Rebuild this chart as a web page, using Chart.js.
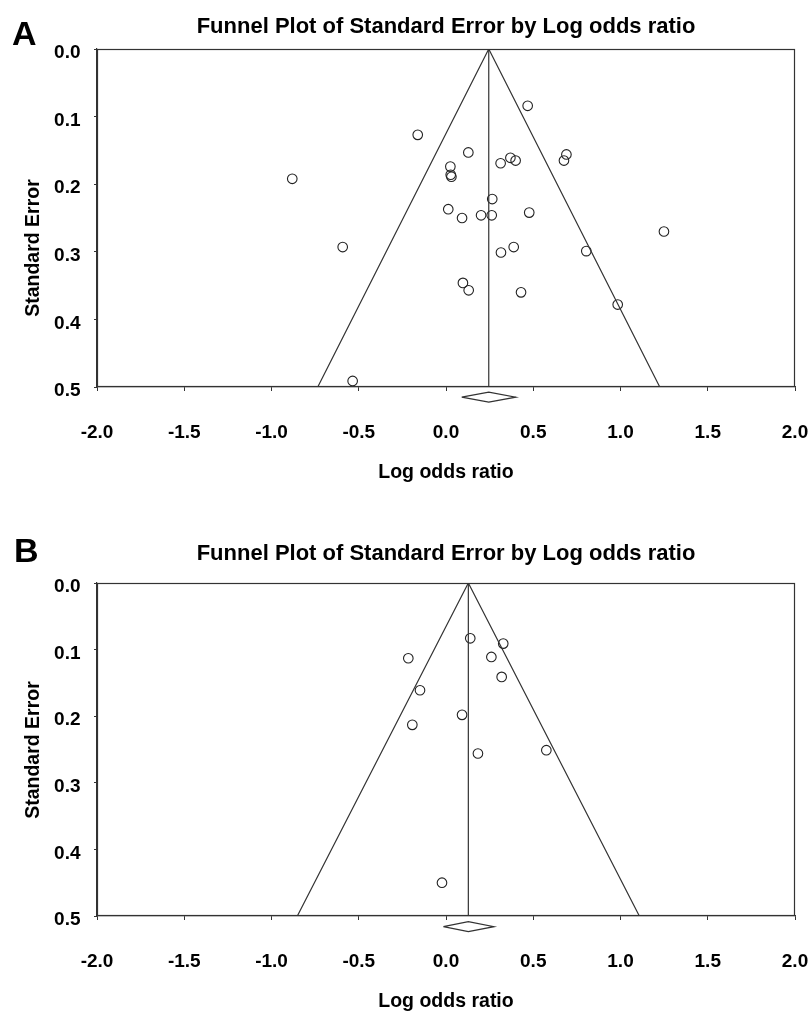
<!DOCTYPE html>
<html><head><meta charset="utf-8">
<script src="https://cdn.jsdelivr.net/npm/chart.js@4.4.1/dist/chart.umd.min.js"></script>
<style>
html,body{margin:0;padding:0;background:#fff;overflow:hidden;width:810px;height:1012px;}
.wrap{position:absolute;left:0;width:810px;height:506px;}
.lab{position:absolute;font-family:'Liberation Sans',Arial,sans-serif;font-weight:bold;font-size:34px;line-height:34px;color:#000;}
.ytitle{position:absolute;font-family:'Liberation Sans',Arial,sans-serif;font-weight:bold;font-size:19.5px;line-height:1;color:#000;white-space:nowrap;transform:translate(-50%,-50%) rotate(-90deg);}
</style></head><body>
<div class="wrap" style="top:0"><canvas id="cA" width="810" height="506"></canvas></div>
<div class="wrap" style="top:506px"><canvas id="cB" width="810" height="506"></canvas></div>
<div class="lab" style="left:12px;top:16px">A</div>
<div class="lab" style="left:14px;top:533px">B</div>
<div class="ytitle" id="ytA" style="left:33px;top:248px"></div>
<div class="ytitle" id="ytB" style="left:33px;top:750px"></div>
<script>
// ---- data ----
const xTickValues = [-2.0,-1.5,-1.0,-0.5,0.0,0.5,1.0,1.5,2.0];
const yTickValues = [0.0,0.1,0.2,0.3,0.4,0.5];
const chartTitle = 'Funnel Plot of Standard Error by Log odds ratio';
const xTitle = 'Log odds ratio';
const yTitle = 'Standard Error';

// Panel A: study log odds ratios and standard errors
const lorA = [0.468,-0.162,0.128,0.025,0.027,0.031,0.313,0.369,0.399,0.690,0.676,-0.881,0.265,0.013,0.092,0.201,0.262,0.477,1.249,-0.592,0.315,0.388,0.804,0.097,0.130,0.430,0.984,-0.535];
const seA  = [0.084,0.127,0.153,0.174,0.186,0.189,0.169,0.161,0.165,0.156,0.165,0.192,0.222,0.237,0.250,0.246,0.246,0.242,0.270,0.293,0.301,0.293,0.299,0.346,0.357,0.360,0.378,0.491];
const pooledA = 0.245;
const funnelXA = [-0.735, 0.245, 1.225];
const funnelYA = [0.5, 0.0, 0.5];
const ciA = [0.09, 0.40];

// Panel B
const lorB = [0.139,0.328,-0.216,0.260,0.319,-0.149,0.092,-0.193,0.183,0.575,-0.023];
const seB  = [0.083,0.091,0.113,0.111,0.141,0.161,0.198,0.213,0.256,0.251,0.450];
const pooledB = 0.128;
const funnelXB = [-0.852, 0.128, 1.108];
const funnelYB = [0.5, 0.0, 0.5];
const ciB = [-0.015, 0.275];

// ---- drawing ----
const FAM = "'Liberation Sans', Arial, sans-serif";
const LINE = '#333';
document.getElementById('ytA').textContent = yTitle;
document.getElementById('ytB').textContent = yTitle;

const framePlugin = {
  id: 'frame',
  afterDatasetsDraw(chart) {
    const {ctx, chartArea: a} = chart;
    ctx.save();
    ctx.strokeStyle = LINE;
    ctx.lineWidth = 1.2;
    const l = Math.round(a.left) + 0.5, t = Math.round(a.top) + 0.5;
    const r = Math.round(a.right) - 0.5, b = Math.round(a.bottom) - 0.5;
    ctx.strokeRect(l, t, r - l, b - t);
    ctx.restore();
  }
};

function makeChart(id, lor, se, funnelX, funnelY, pooled, ci, geo) {
  const pts = lor.map((x, i) => ({x, y: se[i]}));
  const funnel = funnelX.map((x, i) => ({x, y: funnelY[i]}));
  const vline = [{x: pooled, y: yTickValues[0]}, {x: pooled, y: yTickValues[yTickValues.length - 1]}];
  const yc = yTickValues[yTickValues.length - 1] + geo.dd, h = geo.dh;
  const diamond = [{x: ci[0], y: yc}, {x: pooled, y: yc - h}, {x: ci[1], y: yc}, {x: pooled, y: yc + h}, {x: ci[0], y: yc}];
  const lineDs = (data, extra) => Object.assign({
    data, showLine: true, pointRadius: 0, borderColor: LINE, borderWidth: 1.2,
    fill: false, tension: 0, backgroundColor: 'transparent'
  }, extra || {});
  return new Chart(document.getElementById(id), {
    type: 'scatter',
    data: {
      datasets: [
        lineDs(funnel),
        lineDs(vline),
        lineDs(diamond, {clip: false}),
        {data: pts, pointStyle: 'circle', pointRadius: 4.8, pointBorderWidth: 1.1,
         pointBorderColor: '#222', pointBackgroundColor: 'rgba(0,0,0,0)', showLine: false}
      ]
    },
    options: {
      responsive: false,
      animation: false,
      events: [],
      layout: {padding: {left: 0, right: 15, top: 0, bottom: 0}},
      plugins: {
        legend: {display: false},
        tooltip: {enabled: false},
        title: {
          display: true, text: chartTitle, color: '#000', fullSize: false,
          font: {family: FAM, size: 22, weight: 'bold', lineHeight: 1.2},
          padding: {top: geo.tTop, bottom: geo.tBottom}
        }
      },
      scales: {
        x: {
          type: 'linear', min: xTickValues[0], max: xTickValues[xTickValues.length - 1],
          afterBuildTicks: s => { s.ticks = xTickValues.map(v => ({value: v})); },
          ticks: {callback: v => Number(v).toFixed(1), color: '#000', padding: 30.6,
                  maxRotation: 0, autoSkip: false,
                  font: {family: FAM, size: 19, weight: 'bold', lineHeight: 1.2}},
          grid: {drawOnChartArea: false, drawTicks: true, tickLength: 4, color: LINE, lineWidth: 1},
          border: {display: true, color: LINE, width: 1.2},
          title: {display: true, text: xTitle, color: '#000',
                  font: {family: FAM, size: 19.5, weight: 'bold', lineHeight: 1},
                  padding: {top: 0, bottom: geo.xtPad}},
          afterFit: s => { s.height = geo.xh; s.paddingLeft = 0; s.paddingRight = 0; }
        },
        y: {
          type: 'linear', min: yTickValues[0], max: yTickValues[yTickValues.length - 1], reverse: true,
          afterBuildTicks: s => { s.ticks = yTickValues.map(v => ({value: v})); },
          ticks: {callback: v => Number(v).toFixed(1), color: '#000', padding: 13.5, labelOffset: 4,
                  font: {family: FAM, size: 19, weight: 'bold', lineHeight: 1.2}},
          grid: {drawOnChartArea: false, drawTicks: true, tickLength: 3, color: LINE, lineWidth: 1},
          border: {display: true, color: LINE, width: 1.2},
          title: {display: false},
          afterFit: s => { s.width = 97; s.paddingTop = 0; s.paddingBottom = 0; }
        }
      }
    },
    plugins: [framePlugin]
  });
}

makeChart('cA', lorA, seA, funnelXA, funnelYA, pooledA, ciA,
  {tTop: 13.8, tBottom: 8.8, xh: 119, xtPad: 23.25, dd: 0.015, dh: 0.0075});
makeChart('cB', lorB, seB, funnelXB, funnelYB, pooledB, ciB,
  {tTop: 34.8, tBottom: 15.8, xh: 96, xtPad: 0.25, dd: 0.016, dh: 0.0075});
</script>
</body></html>
